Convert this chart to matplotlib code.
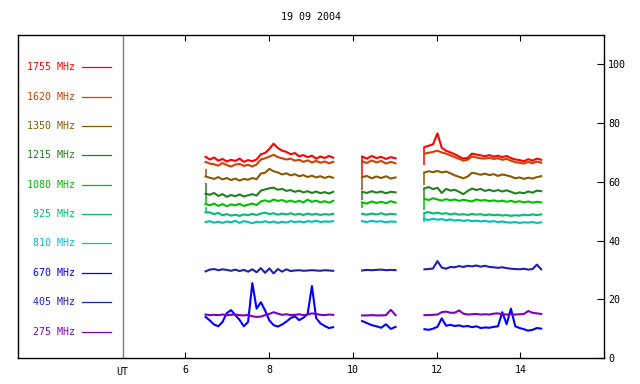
import numpy as np
import matplotlib
matplotlib.use("Agg")
import matplotlib.pyplot as plt

plt.rcParams['font.family'] = 'DejaVu Sans Mono'
plt.rcParams['font.size'] = 7.2

# sample times (UT hours) of the three observing runs
t1 = np.linspace(6.48, 9.53, 31)
t2 = np.linspace(10.22, 11.02, 8)
t3 = np.linspace(11.71, 14.50, 28)

labels = ['1755 MHz', '1620 MHz', '1350 MHz', '1215 MHz', '1080 MHz',
          '925 MHz', '810 MHz', '670 MHz', '405 MHz', '275 MHz']
colors = ['#ff0000', '#d04000', '#8b5a00', '#208020', '#00c000',
          '#00c070', '#00c0c0', '#0000ff', '#2020b0', '#8000c0']

# flux per channel, one list per run
f1755 = [[68.5, 67.6, 68.3, 67.2, 67.8, 66.9, 67.5, 67.1, 67.9, 66.8, 67.4, 67.0, 67.6, 69.4, 69.8, 71.2,
          73.0, 71.5, 70.6, 70.2, 69.4, 69.8, 68.7, 69.1, 68.4, 68.9, 67.9, 68.6, 68.1, 68.8, 68.2],
         [68.6, 67.9, 68.8, 68.1, 68.5, 67.8, 68.4, 68.0],
         [71.8, 72.3, 72.8, 76.5, 71.6, 70.6, 70.0, 69.4, 68.6, 67.9, 68.2, 69.6, 69.3, 69.0, 68.7, 69.1,
          68.6, 68.9, 68.4, 68.8, 68.1, 67.6, 67.4, 67.0, 67.7, 67.2, 67.9, 67.5]]
f1620 = [[66.8, 66.2, 66.0, 65.5, 66.4, 65.7, 65.2, 65.9, 66.1, 65.4, 65.8, 65.2, 65.9, 67.6, 68.0, 68.6,
          69.2, 68.4, 68.0, 67.6, 67.9, 67.2, 67.5, 66.8, 67.3, 66.6, 67.1, 66.5, 66.9, 66.3, 66.8],
         [67.0, 66.4, 67.3, 66.6, 67.1, 66.2, 66.8, 66.3],
         [69.6, 69.9, 70.2, 70.6, 70.0, 69.6, 69.0, 68.4, 67.8, 67.2, 67.5, 68.6, 68.3, 68.0, 67.9, 68.2,
          67.8, 68.0, 67.5, 67.8, 67.2, 66.7, 66.5, 66.2, 66.8, 66.3, 66.9, 66.5]]
f1350 = [[61.8, 61.4, 61.0, 61.6, 60.8, 61.3, 60.6, 61.1, 60.4, 61.0, 60.7, 61.3, 60.9, 62.8, 63.1, 64.4,
          63.6, 63.2, 62.5, 62.9, 62.2, 62.6, 61.9, 62.3, 61.6, 62.1, 61.5, 61.9, 61.3, 61.8, 61.4],
         [61.6, 62.0, 61.2, 61.8, 61.3, 61.9, 61.1, 61.5],
         [63.2, 63.6, 63.3, 63.7, 63.2, 63.5, 62.9, 62.2, 61.7, 61.2, 61.8, 63.1, 62.8, 62.4, 62.8, 62.3,
          62.6, 62.0, 62.5, 62.2, 61.8, 61.2, 61.5, 61.0, 61.4, 61.1, 61.6, 61.9]]
f1215 = [[55.9, 55.6, 56.2, 55.2, 55.8, 54.9, 55.5, 55.1, 55.7, 55.0, 55.4, 55.8, 55.3, 57.0, 57.4, 57.8,
          58.0, 57.3, 57.6, 56.9, 57.2, 56.6, 57.0, 56.4, 56.8, 56.2, 56.7, 56.1, 56.5, 56.0, 56.6],
         [56.6, 56.2, 56.8, 56.3, 56.7, 56.1, 56.6, 56.4],
         [57.8, 58.2, 57.5, 58.0, 56.2, 57.6, 57.0, 57.3, 56.6, 55.8, 56.9, 57.7, 57.2, 57.6, 56.9, 57.3,
          56.8, 57.2, 56.7, 57.1, 56.6, 56.0, 56.4, 56.1, 56.7, 56.3, 57.0, 56.8]]
f1080 = [[52.4, 52.0, 52.6, 51.8, 52.4, 51.7, 52.3, 52.0, 52.5, 51.8, 52.2, 52.6, 52.1, 53.3, 53.7, 53.2,
          54.0, 53.5, 53.8, 53.2, 53.6, 53.1, 53.5, 53.0, 53.9, 53.2, 53.6, 53.0, 53.4, 52.9, 53.5],
         [53.0, 52.6, 53.3, 52.8, 53.2, 52.7, 53.4, 52.9],
         [54.2, 53.8, 54.4, 54.0, 53.6, 54.1, 53.7, 54.0, 53.5, 53.9, 53.6, 53.3, 54.0, 53.6, 53.8, 53.4,
          53.7, 53.3, 53.6, 53.2, 53.5, 53.1, 53.4, 53.0, 53.3, 52.9, 53.2, 53.0]]
f925 = [[49.6, 49.6, 49.0, 49.4, 48.6, 49.0, 48.5, 48.8, 48.4, 48.9, 48.6, 49.1, 48.7, 49.2, 49.5, 49.0,
         49.3, 48.8, 49.2, 48.9, 49.3, 48.8, 49.1, 48.7, 49.2, 48.8, 49.1, 48.7, 49.0, 48.8, 49.1],
        [49.1, 48.8, 49.2, 48.9, 49.3, 48.8, 49.1, 48.9],
        [49.4, 49.7, 49.2, 49.5, 49.1, 49.3, 48.9, 49.2, 48.8, 49.0, 48.7, 49.1, 48.8, 49.0, 48.6, 48.9,
         48.6, 48.8, 48.5, 48.7, 48.4, 48.6, 48.5, 48.8, 48.6, 48.9, 48.7, 48.9]]
f810 = [[46.3, 46.6, 46.1, 46.4, 46.0, 46.5, 46.2, 46.7, 46.0, 46.6, 46.3, 45.9, 46.4, 46.2, 46.6, 46.1,
         46.5, 46.0, 46.4, 46.1, 46.6, 46.3, 46.5, 46.2, 46.6, 46.4, 46.7, 46.3, 46.5, 46.4, 46.6],
        [46.6, 46.3, 46.7, 46.4, 46.6, 46.2, 46.5, 46.4],
        [47.3, 47.0, 47.4, 47.1, 47.3, 46.9, 47.2, 46.8, 47.0, 46.7, 46.9, 46.6, 46.8, 46.5, 46.7, 46.4,
         46.6, 46.3, 46.5, 46.2, 46.1, 46.3, 46.0, 46.2, 46.1, 46.3, 46.0, 46.2]]
f670 = [[14.0, 12.8, 11.4, 10.8, 12.3, 15.3, 16.3, 14.6, 13.0, 10.8, 12.3, 25.5, 16.8, 19.0, 16.2, 12.8,
         11.2, 10.7, 11.4, 12.4, 13.6, 14.2, 12.9, 13.7, 15.0, 24.5, 13.6, 11.8, 10.9, 10.2, 10.5],
        [12.6, 11.9, 11.2, 10.8, 10.3, 11.5, 9.9, 10.6],
        [9.8, 9.6, 10.0, 10.6, 13.5, 11.0, 11.3, 10.9, 11.1, 10.7, 10.9, 10.5, 10.8, 10.2, 10.4, 10.3,
         10.6, 10.8, 15.6, 11.5, 16.8, 10.8, 10.2, 9.8, 9.3, 9.6, 10.2, 10.0]]
f405 = [[29.5, 30.1, 30.3, 29.9, 30.2, 30.0, 29.7, 30.1, 29.6, 30.0, 29.4, 30.2, 29.2, 30.6, 29.0, 30.5,
         28.8, 30.3, 29.4, 30.2, 29.6, 29.8, 29.9, 29.7, 29.8, 29.9, 29.8, 29.7, 29.9, 29.8, 29.7],
        [29.8, 30.0, 29.9, 30.0, 30.1, 29.9, 30.0, 29.9],
        [30.2, 30.3, 30.5, 33.0, 30.8, 30.4, 31.0, 30.9, 31.3, 31.0, 31.4, 31.2, 31.5, 31.1, 31.4, 31.0,
         30.9, 30.7, 30.9, 30.6, 30.4, 30.3, 30.2, 30.4, 30.1, 30.3, 31.8, 30.2]]
f275 = [[14.8, 14.6, 14.7, 14.6, 14.8, 14.6, 14.7, 14.8, 14.6, 14.5, 14.7, 14.2, 14.0, 14.1, 14.6, 15.0,
         15.6, 15.1, 14.7, 14.9, 14.6, 14.7, 14.9, 14.6, 14.8, 15.2, 15.0, 14.7, 14.6, 14.8, 14.7],
        [14.5, 14.5, 14.6, 14.5, 14.5, 14.6, 16.4, 14.6],
        [14.6, 14.6, 14.7, 14.8, 15.6, 15.8, 15.4, 15.4, 16.2, 15.1, 14.8, 14.9, 15.0, 14.8, 14.9, 14.8,
         15.1, 15.2, 14.9, 14.8, 14.9, 14.8, 14.9, 15.0, 16.0, 15.4, 15.2, 15.0]]

# value at the very start of each run (calibration transient), None if none
jumps = {'1755 MHz': [None, 61.5, 65.6],
         '1350 MHz': [64.5, 57.1, 58.8],
         '1215 MHz': [59.5, 53.7, 54.4],
         '1080 MHz': [55.5, 51.0, 50.3],
         '925 MHz': [51.3, None, 46.3]}

series = [f1755, f1620, f1350, f1215, f1080, f925, f810, f670, f405, f275]
times = [t1, t2, t3]

fig = plt.figure(figsize=(6.4, 3.84), dpi=100)
ax = fig.add_axes([18 / 640, 26 / 384, 586 / 640, 323 / 384])

for i, (lab, col, runs) in enumerate(zip(labels, colors, series)):
    for k, (t, v) in enumerate(zip(times, runs)):
        ax.plot(t, v, color=col, lw=1.5)
        j = jumps.get(lab, [None] * 3)[k]
        if j is not None:
            ax.vlines(t[0], j, v[0], color=col, lw=1.1)
    # legend column on the left
    ly = 99 - 10 * i
    ax.text(3.36, ly, lab, color=col, ha='right', va='center')
    ax.plot([3.52, 4.21], [ly, ly], color=col, lw=0.9)

ax.axvline(4.5, color='#808080', lw=1)
ax.set_xlim(2, 16)
ax.set_ylim(0, 110)
for sp in ax.spines.values():
    sp.set_color('black')
    sp.set_linewidth(1)

ax.set_xticks([6, 8, 10, 12, 14])
ax.tick_params(axis='x', direction='in', length=4, top=True, bottom=True, pad=5)
ax.yaxis.tick_right()
ax.set_yticks([0, 20, 40, 60, 80, 100])
ax.tick_params(axis='y', direction='in', length=5, pad=3, left=False, right=True)

ax.text(4.5, -0.043, 'UT', transform=ax.get_xaxis_transform(), ha='center', va='center')
ax.text(0.5, 1.056, '19 09 2004', transform=ax.transAxes, ha='center', va='center')

fig.savefig('out.png', dpi=100)
